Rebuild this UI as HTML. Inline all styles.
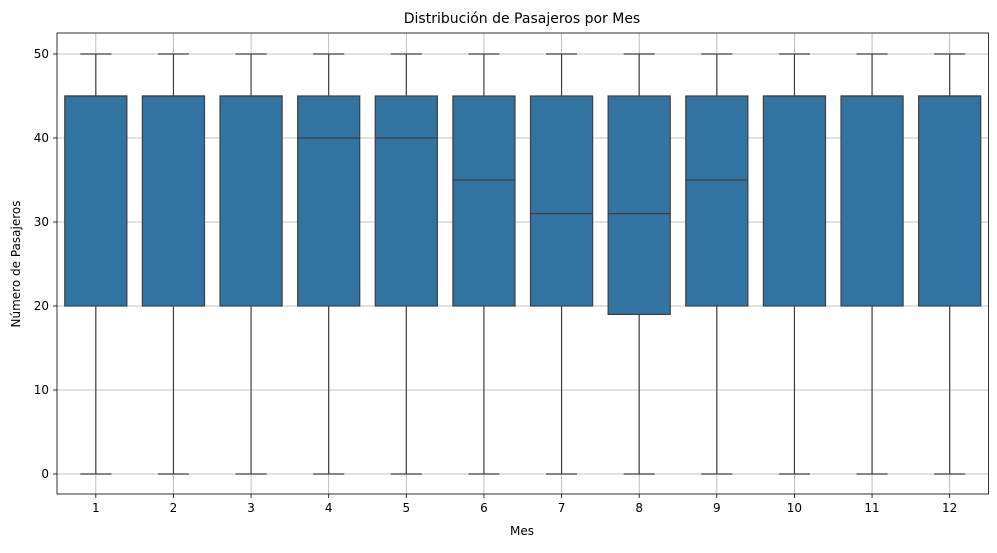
<!DOCTYPE html>
<html><head><meta charset="utf-8"><style>
body{margin:0;background:#fff;font-family:"Liberation Sans","DejaVu Sans",sans-serif;}
svg text{font-family:"DejaVu Sans","Liberation Sans",sans-serif;}
</style></head><body>
<svg id="chart" width="997" height="548" xmlns="http://www.w3.org/2000/svg">
<rect width="997" height="548" fill="#fff"/>
<text x="522" y="23" font-size="14" text-anchor="middle" fill="#000">Distribución de Pasajeros por Mes</text>
<text x="522" y="535" font-size="12" text-anchor="middle" fill="#000">Mes</text>
<text transform="translate(20,264) rotate(-90)" font-size="12" text-anchor="middle" fill="#000">Número de Pasajeros</text>
<g id="grid"></g><g id="boxes"></g><g id="axes"></g>
</svg>
<script>
const months=[1,2,3,4,5,6,7,8,9,10,11,12];
const mins=[0,0,0,0,0,0,0,0,0,0,0,0];
const q1s=[20,20,20,20,20,20,20,19,20,20,20,20];
const medians=[45,45,45,40,40,35,31,31,35,45,45,45];
const q3s=[45,45,45,45,45,45,45,45,45,45,45,45];
const maxs=[50,50,50,50,50,50,50,50,50,50,50,50];
const yTicks=[0,10,20,30,40,50];
const L=57,R=988.5,T=33,B=494;
const NS="http://www.w3.org/2000/svg";
const step=(R-L)/months.length;
const x=i=>L+step*(i+0.5);
const y=v=>474-v*8.4;
function mk(t,a,p){const e=document.createElementNS(NS,t);for(const k in a)e.setAttribute(k,a[k]);p.appendChild(e);return e;}
const grid=document.getElementById('grid'),boxes=document.getElementById('boxes'),axes=document.getElementById('axes');
yTicks.forEach(v=>{
 const g=mk('line',{x1:L,x2:R,y1:y(v),y2:y(v),stroke:'#b0b0b0','stroke-width':0.8},grid);
 
 
 mk('line',{x1:L-4,x2:L,y1:y(v),y2:y(v),stroke:'#000','stroke-width':0.8},axes);
 const t=mk('text',{x:L-8,y:y(v)+4,'font-size':12,'text-anchor':'end',fill:'#000'},axes);t.textContent=v;
 
 
});
months.forEach((m,i)=>{
 const cx=x(i);
 const g=mk('line',{x1:cx,x2:cx,y1:T,y2:B,stroke:'#b0b0b0','stroke-width':0.8},grid);
 
 
 const grp=mk('g',{},boxes);
 
 
 const bw=step*0.8,cw=bw/2,c='#3f3f3f';
 mk('line',{x1:cx,x2:cx,y1:y(q1s[i]),y2:y(mins[i]),stroke:c,'stroke-width':1.2},grp);
 mk('line',{x1:cx,x2:cx,y1:y(q3s[i]),y2:y(maxs[i]),stroke:c,'stroke-width':1.2},grp);
 mk('line',{x1:cx-cw/2,x2:cx+cw/2,y1:y(mins[i]),y2:y(mins[i]),stroke:c,'stroke-width':1.2},grp);
 mk('line',{x1:cx-cw/2,x2:cx+cw/2,y1:y(maxs[i]),y2:y(maxs[i]),stroke:c,'stroke-width':1.2},grp);
 mk('rect',{x:cx-bw/2,y:y(q3s[i]),width:bw,height:y(q1s[i])-y(q3s[i]),fill:'#3274a1',stroke:c,'stroke-width':1.2},grp);
 mk('line',{x1:cx-bw/2,x2:cx+bw/2,y1:y(medians[i]),y2:y(medians[i]),stroke:c,'stroke-width':1.2},grp);
 mk('line',{x1:cx,x2:cx,y1:B,y2:B+4,stroke:'#000','stroke-width':0.8},axes);
 const t=mk('text',{x:cx,y:B+18,'font-size':12,'text-anchor':'middle',fill:'#000'},axes);t.textContent=m;
 
 
});
const fr=mk('rect',{x:L,y:T,width:R-L,height:B-T,fill:'none',stroke:'#000','stroke-width':0.8},axes);


</script>
</body></html>
